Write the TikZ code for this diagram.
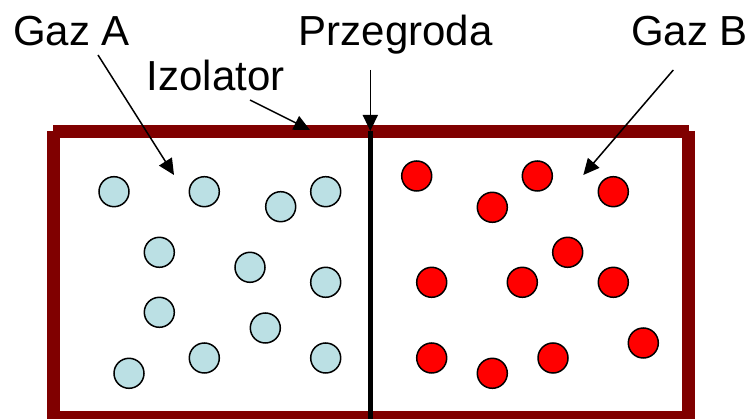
\documentclass[tikz,border=0pt]{standalone}
\usepackage{fontspec}
\setmainfont{Liberation Sans}
\usetikzlibrary{arrows.meta}
\definecolor{wallred}{RGB}{128,0,0}
\definecolor{gasA}{RGB}{187,224,228}
\definecolor{gasB}{RGB}{255,0,0}
\tikzset{
  lbl/.style={anchor=base west, inner sep=0pt, font=\fontsize{42}{48}\selectfont},
  wall/.style={line width=13pt, draw=wallred, line cap=butt},
  partition/.style={line width=5pt, draw=black, line cap=butt},
  arr/.style={line width=1.5pt, -{Triangle[length=16pt,width=15pt]}},
  molA/.style={circle, draw=black, fill=gasA, line width=1.5pt, inner sep=0pt, minimum size=30pt},
  molB/.style={circle, draw=black, fill=gasB, line width=1.5pt, inner sep=0pt, minimum size=30pt}
}
\begin{document}
\begin{tikzpicture}[x=1pt,y=-1pt]
\useasboundingbox (0,0) rectangle (753,419);
\fill[white] (0,0) rectangle (753,419);
% walls
\coordinate (tl) at (53,131.5);
\coordinate (tr) at (689,131.5);
\coordinate (lt) at (53.5,131);
\coordinate (lb) at (53.5,426);
\coordinate (rt) at (688.5,131);
\coordinate (rb) at (688.5,426);
\coordinate (bl) at (47,418);
\coordinate (br) at (695,418);
\draw[wall] (tl) -- (tr);
\draw[wall] (lt) -- (lb);
\draw[wall] (rt) -- (rb);
\draw[wall] (bl) -- (br);
% partition
\coordinate (pt) at (370.7,131);
\coordinate (pb) at (370.7,426);
\draw[partition] (pt) -- (pb);
% labels
\node[lbl] (gazA) at (13,45.7) {Gaz A};
\node[lbl] (przeg) at (298.5,45.7) {Przegroda};
\node[lbl] (gazB) at (631,45.7) {Gaz B};
\node[lbl] (izol) at (146.5,90.7) {Izolator};
% arrows
\coordinate (gAs) at (98,55);
\coordinate (gAe) at (174,175);
\coordinate (izs) at (250,100);
\coordinate (ize) at (310,130);
\coordinate (prs) at (370.3,70);
\coordinate (pre) at (370.3,131);
\coordinate (gBs) at (673.3,70);
\coordinate (gBe) at (583.3,175);
\draw[arr] (gAs) -- (gAe);
\draw[arr] (izs) -- (ize);
\draw[arr] (prs) -- (pre);
\draw[arr] (gBs) -- (gBe);
% gas A molecules
\node[molA] (a1) at (114,191.7) {};
\node[molA] (a2) at (204.3,191.7) {};
\node[molA] (a3) at (280.7,206.7) {};
\node[molA] (a4) at (325.7,191.7) {};
\node[molA] (a5) at (159.3,252.3) {};
\node[molA] (a6) at (250,267.3) {};
\node[molA] (a7) at (325.7,282.3) {};
\node[molA] (a8) at (159.3,312.3) {};
\node[molA] (a9) at (265.3,328) {};
\node[molA] (a10) at (204.3,358) {};
\node[molA] (a11) at (325.7,358) {};
\node[molA] (a12) at (129,373.3) {};
% gas B molecules
\node[molB] (b1) at (416.7,176) {};
\node[molB] (b2) at (537.3,176) {};
\node[molB] (b3) at (492.3,207.3) {};
\node[molB] (b4) at (613.3,191.7) {};
\node[molB] (b5) at (567.7,252.3) {};
\node[molB] (b6) at (431.7,282.3) {};
\node[molB] (b7) at (522.3,282.3) {};
\node[molB] (b8) at (613.3,282.3) {};
\node[molB] (b9) at (431.7,358) {};
\node[molB] (b10) at (492.3,373.3) {};
\node[molB] (b11) at (553,358) {};
\node[molB] (b12) at (643.3,343) {};
\end{tikzpicture}
\end{document}
